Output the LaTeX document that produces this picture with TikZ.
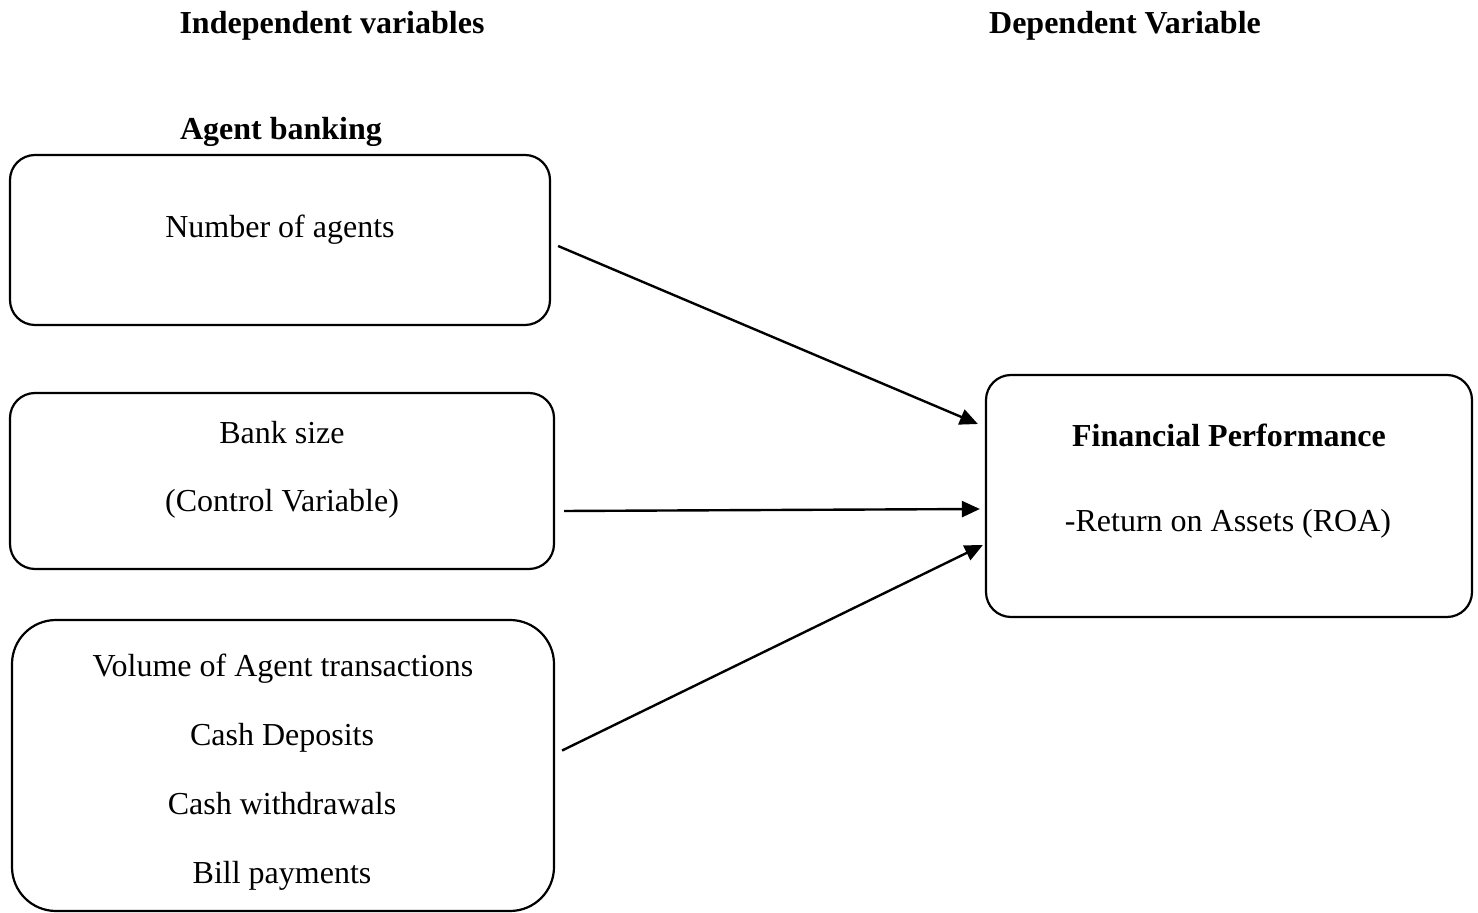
\documentclass[tikz,border=0pt]{standalone}
\usepackage{fontspec}
\setmainfont{Liberation Serif}
\usetikzlibrary{arrows.meta,calc}
\begin{document}
\begin{tikzpicture}[x=0.5pt, y=-0.5pt, font=\fontsize{16}{19}\selectfont,
		box/.style = {draw, line width=1.1pt, rounded corners=12.5pt, minimum width=#1},
		txt/.style = {anchor=base, inner sep=0pt},
		arr/.style = {line width=1.2pt, -{Triangle[length=9pt, width=8pt]}}]
	\useasboundingbox (0,0) rectangle (1478,913);
	% headings
	\node[txt] (h1) at (332,34) {\textbf{Independent variables}};
	\node[txt] (h2) at (1125,34) {\textbf{Dependent Variable}};
	\node[txt] (h3) at (281,140) {\textbf{Agent banking}};
	% boxes
	\node[box=270pt, minimum height=85pt] (1) at (280,240) {};
	\node[box=272pt, minimum height=88pt] (2) at (282,481) {};
	\node[box=271pt, minimum height=145.5pt, rounded corners=22pt] (3) at (283,765.5) {};
	\node[box=243pt, minimum height=121pt] (4) at (1229,496) {};
	% texts
	\node[txt] at (280,238) {Number of agents};
	\node[txt] at (282,444) {Bank size};
	\node[txt] at (282,512) {(Control Variable)};
	\node[txt] at (283,677) {Volume of Agent transactions};
	\node[txt] at (282,746) {Cash Deposits};
	\node[txt] at (282,814) {Cash withdrawals};
	\node[txt] at (282,884) {Bill payments};
	\node[txt] at (1229,447) {\textbf{Financial Performance}};
	\node[txt] at (1228,532) {-Return on Assets (ROA)};
	% arrows
	\draw[arr] ($(1.east)+(7,6)$) -- ($(4.west)+(-7,-72)$);
	\draw[arr] ($(2.east)+(9,30)$) -- ($(4.west)+(-5,13)$);
	\draw[arr] ($(3.east)+(7,-15)$) -- ($(4.west)+(-2,49)$);
\end{tikzpicture}
\end{document}
